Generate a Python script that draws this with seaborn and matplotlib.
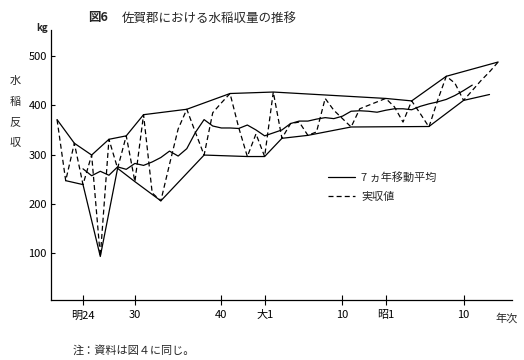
import pandas as pd
import seaborn as sns
import matplotlib.pyplot as plt
from matplotlib.transforms import blended_transform_factory

# 実収値 (kg/反), 1888-1939
years = list(range(1888, 1940))
actual = [371, 247, 323, 239, 299, 93, 331, 272, 338, 245,
          381, 222, 206, 280, 352, 392, 345, 299, 385, 405,
          424, 355, 296, 342, 296, 427, 333, 363, 366, 339,
          346, 414, 390, 373, 356, 393, 400, 407, 414, 397,
          366, 409, 383, 356, 410, 459, 445, 410, 430, 450,
          468, 488]

# 7ヵ年移動平均, 1891-1936
ma_years = list(range(1891, 1937))
ma = [271, 257, 266, 258, 275, 270, 282, 278, 285, 294,
      307, 297, 312, 345, 371, 358, 354, 354, 353, 360,
      350, 338, 344, 350, 363, 368, 368, 372, 375, 373,
      378, 388, 389, 388, 386, 390, 393, 393, 391, 398,
      403, 407, 412, 420, 430, 441]

# upper / lower envelope lines
up_years = [1888, 1890, 1892, 1894, 1896, 1898, 1903, 1908, 1913, 1926, 1929, 1933, 1939]
up_vals = [371, 323, 299, 331, 338, 381, 392, 424, 427, 414, 409, 459, 488]
lo_years = [1889, 1891, 1893, 1895, 1897, 1900, 1905, 1910, 1912, 1914, 1917, 1922, 1931, 1935, 1938]
lo_vals = [247, 239, 93, 272, 245, 206, 299, 296, 296, 333, 339, 356, 357, 410, 422]

tick_years = [1891, 1897, 1907, 1912, 1921, 1926, 1935]
tick_labels = ['明24', '30', '40', '大1', '10', '昭1', '10']
y_ticks = [100, 200, 300, 400, 500]

df_actual = pd.DataFrame({'year': years, 'value': actual})
df_ma = pd.DataFrame({'year': ma_years, 'value': ma})
df_up = pd.DataFrame({'year': up_years, 'value': up_vals})
df_lo = pd.DataFrame({'year': lo_years, 'value': lo_vals})

sns.set_style('white')
plt.rcParams['font.family'] = ['Noto Sans CJK JP', 'DejaVu Sans']

fig = plt.figure(figsize=(5.24, 3.6), dpi=100)
ax = fig.add_axes([51 / 524, 1 - 300 / 360, 461 / 524, 270 / 360])

lw = 0.9
sns.lineplot(data=df_up, x='year', y='value', ax=ax, color='black', linewidth=lw)
sns.lineplot(data=df_lo, x='year', y='value', ax=ax, color='black', linewidth=lw)
sns.lineplot(data=df_ma, x='year', y='value', ax=ax, color='black', linewidth=lw,
             label='7 ヵ年移動平均')
sns.lineplot(data=df_actual, x='year', y='value', ax=ax, color='black', linewidth=lw,
             linestyle=(0, (4, 2.5)), label='実収値')

ax.set_xlim(1887.3, 1940.6)
ax.set_ylim(4.6, 553)
ax.set_xlabel('')
ax.set_ylabel('')
ax.set_xticks(tick_years, tick_labels)
ax.set_yticks(y_ticks)
ax.tick_params(axis='x', bottom=True, direction='inout', length=7, width=0.8, pad=4,
               labelsize=8, colors='black')
ax.tick_params(axis='y', left=True, direction='in', length=3, width=0.8, pad=3,
               labelsize=8, colors='black')
for s in ['top', 'right']:
    ax.spines[s].set_visible(False)
for s in ['left', 'bottom']:
    ax.spines[s].set_color('black')
    ax.spines[s].set_linewidth(0.9)

trans = blended_transform_factory(ax.transData, fig.transFigure)
ax.text(1940.0, 1 - 318 / 360, '年次', transform=trans, ha='center', va='center', fontsize=8)

ax.legend(loc='upper left', bbox_to_anchor=(328 / 524, 1 - 172 / 360), bbox_transform=fig.transFigure,
          frameon=False, borderpad=0, borderaxespad=0, fontsize=8, handlelength=2.4,
          handletextpad=0.6, labelspacing=0.85)

fig.text(88 / 524, 1 - 18 / 360, '図6', fontsize=9, fontweight='bold', va='center', ha='left')
fig.text(122 / 524, 1 - 18 / 360, '佐賀郡における水稲収量の推移', fontsize=9, va='center', ha='left')
fig.text(42 / 524, 1 - 28 / 360, 'kg', fontsize=7, fontweight='bold', va='center', ha='center')
fig.text(15 / 524, 1 - 112 / 360, '水\n稲\n反\n収', fontsize=8, va='center', ha='center', linespacing=2.3)
fig.text(73 / 524, 1 - 350 / 360, '注：資料は図４に同じ。', fontsize=8, va='center', ha='left')

fig.savefig('out.png', dpi=100)
